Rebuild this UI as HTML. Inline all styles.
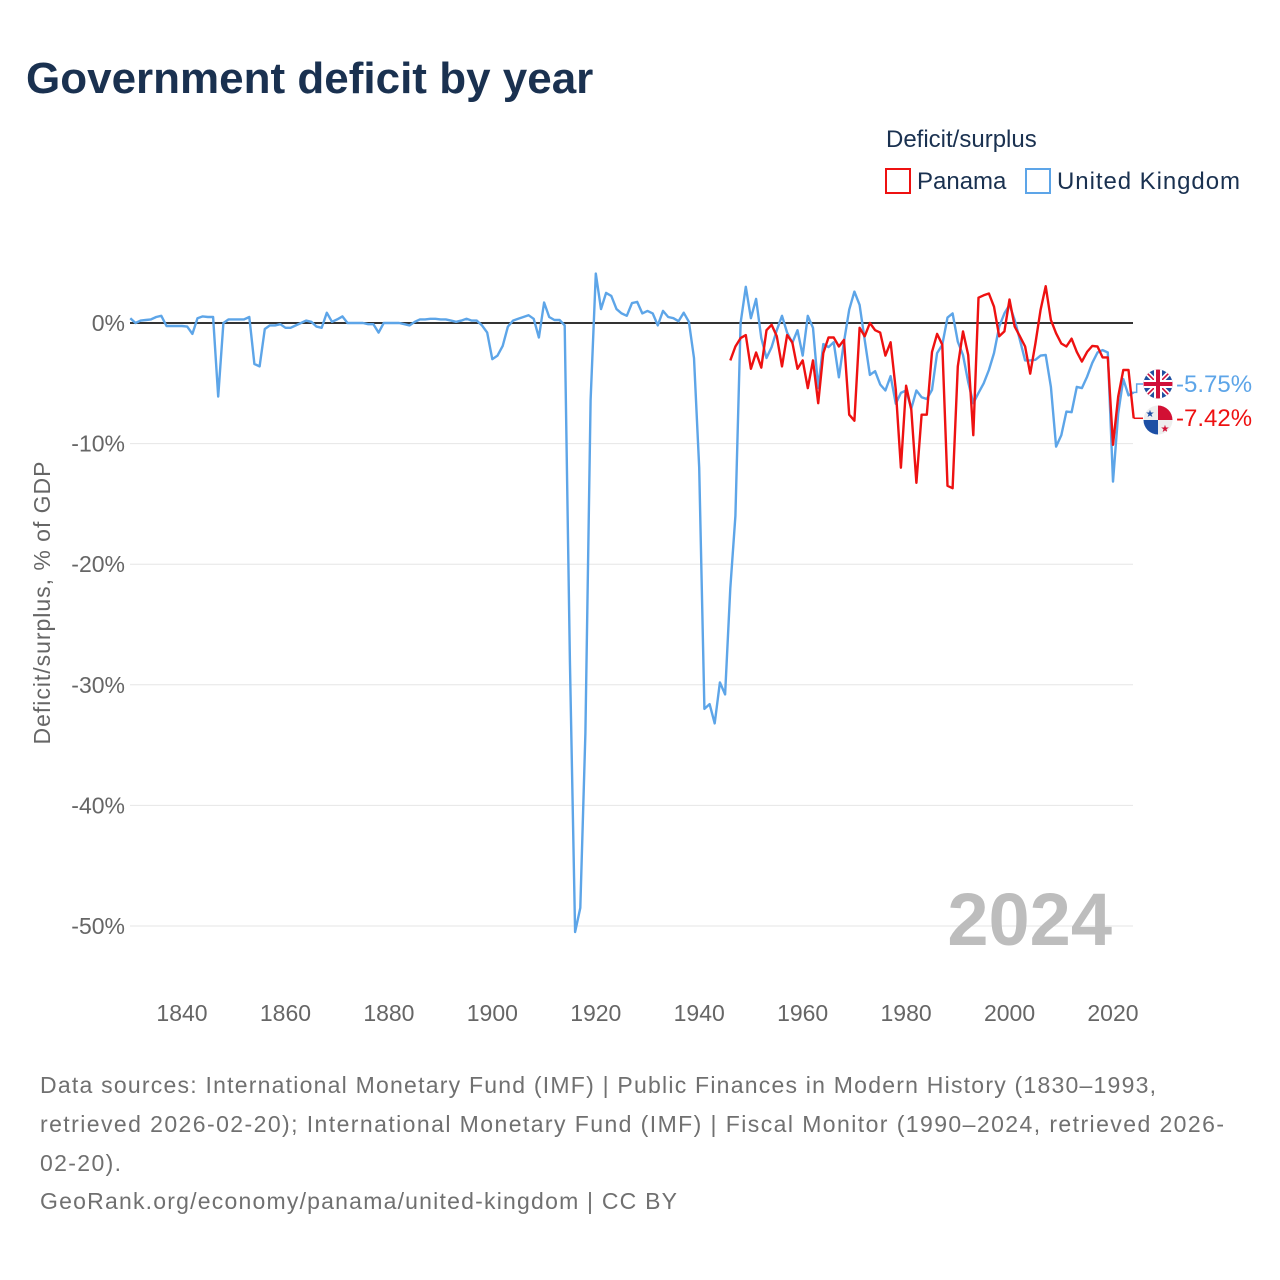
<!DOCTYPE html>
<html><head><meta charset="utf-8"><style>
body{margin:0;background:#fff;font-family:"Liberation Sans",sans-serif;}
#wrap{position:relative;width:1280px;height:1280px;overflow:hidden;background:#fff}
</style></head><body>
<div id="wrap">
<svg id="chart" width="1280" height="1280" viewBox="0 0 1280 1280">
<text x="26" y="93" font-size="44" font-weight="bold" fill="#1a3150">Government deficit by year</text>
<text x="886" y="147" font-size="24" fill="#1a3150">Deficit/surplus</text>
<g><rect x="886" y="169" width="24" height="24" fill="none" stroke="#ee1111" stroke-width="2"/><text x="917" y="189" font-size="24" fill="#1a3150">Panama</text></g>
<g><rect x="1026" y="169" width="24" height="24" fill="none" stroke="#5da5e8" stroke-width="2"/><text x="1057" y="189" font-size="24" fill="#1a3150" textLength="183">United Kingdom</text></g>
<g id="grid"></g>
<g id="yticks"></g>
<g id="xticks"></g>
<text transform="translate(50,603) rotate(-90)" text-anchor="middle" font-size="23" fill="#666" textLength="283">Deficit/surplus, % of GDP</text>
<text x="1112" y="945" text-anchor="end" font-size="74" font-weight="bold" fill="#bdbdbd">2024</text>
<g id="series"></g>
<g>
<clipPath id="cu"><circle cx="1158" cy="384" r="14.5"/></clipPath>
<g clip-path="url(#cu)"><rect x="1143" y="369" width="30" height="30" fill="#1f4fa0"/>
<path d="M1143 369L1173 399M1173 369L1143 399" stroke="#fff" stroke-width="5"/>
<path d="M1143 369L1173 399M1173 369L1143 399" stroke="#d0103a" stroke-width="1.6"/>
<rect x="1143" y="380" width="30" height="8" fill="#fff"/><rect x="1154" y="369" width="8" height="30" fill="#fff"/>
<rect x="1143" y="382" width="30" height="4" fill="#d0103a"/><rect x="1156" y="369" width="4" height="30" fill="#d0103a"/></g>
<text x="1176" y="392" font-size="24" fill="#5da5e8">-5.75%</text></g>
<g>
<clipPath id="cp"><circle cx="1158" cy="420" r="14.5"/></clipPath>
<g clip-path="url(#cp)"><rect x="1143" y="405" width="30" height="30" fill="#eee"/>
<rect x="1158" y="405" width="15" height="15" fill="#d21034"/><rect x="1143" y="420" width="15" height="15" fill="#1c4fa5"/>
<text x="1150" y="417" font-size="10" fill="#1c4fa5" text-anchor="middle">★</text><text x="1165" y="432" font-size="10" fill="#d21034" text-anchor="middle">★</text></g>
<text x="1176" y="426" font-size="24" fill="#ee1111">-7.42%</text></g>
<g font-size="23" fill="#707070">
<text x="40" y="1093" textLength="1116">Data sources: International Monetary Fund (IMF) | Public Finances in Modern History (1830–1993,</text>
<text x="40" y="1132" textLength="1184">retrieved 2026-02-20); International Monetary Fund (IMF) | Fiscal Monitor (1990–2024, retrieved 2026-</text>
<text x="40" y="1171" textLength="81">02-20).</text>
<text x="40" y="1209" textLength="637">GeoRank.org/economy/panama/united-kingdom | CC BY</text>
</g>
</svg>
</div>
<script>
const ukStartYear = 1830;
const ukValues = [0.4,0,0.2,0.25,0.3,0.5,0.6,-0.25,-0.25,-0.25,-0.25,-0.3,-0.9,0.4,0.55,0.5,0.5,-6.1,0,0.3,0.3,0.3,0.3,0.5,-3.4,-3.6,-0.5,-0.2,-0.2,-0.1,-0.4,-0.4,-0.2,0,0.2,0.1,-0.3,-0.4,0.85,0.1,0.3,0.55,0,0,0,0,-0.1,-0.1,-0.8,0,0,0,0,-0.1,-0.2,0.1,0.3,0.3,0.35,0.35,0.3,0.3,0.2,0.1,0.2,0.35,0.2,0.2,-0.2,-0.8,-3.0,-2.7,-1.9,-0.3,0.2,0.35,0.5,0.65,0.35,-1.2,1.7,0.5,0.25,0.25,-0.2,-28,-50.5,-48.5,-34,-6.4,4.1,1.15,2.5,2.25,1.15,0.8,0.6,1.65,1.75,0.8,1.0,0.8,-0.2,1.0,0.5,0.4,0.15,0.85,0.1,-2.9,-12,-32,-31.6,-33.2,-29.8,-30.8,-22,-16,0,3.0,0.4,2.0,-1.25,-2.9,-2.0,-0.6,0.6,-0.8,-1.65,-0.6,-2.7,0.6,-0.4,-5.4,-1.75,-2.0,-1.6,-4.5,-1.55,1.1,2.6,1.5,-1.4,-4.3,-4.0,-5.1,-5.6,-4.4,-6.7,-5.8,-5.6,-7.1,-5.6,-6.15,-6.3,-5.55,-2.5,-1.8,0.45,0.8,-1.55,-2.65,-4.9,-6.65,-5.8,-5.0,-3.9,-2.5,-0.3,0.8,1.5,0.25,-1.4,-3.1,-3.1,-3.05,-2.7,-2.65,-5.3,-10.25,-9.3,-7.35,-7.4,-5.3,-5.4,-4.45,-3.3,-2.45,-2.25,-2.45,-13.15,-7.5,-4.65,-6.0,-5.75];
const panamaStartYear = 1946;
const panamaValues = [-3.1,-1.95,-1.25,-1.0,-3.8,-2.45,-3.7,-0.6,-0.15,-1.1,-3.6,-1.0,-1.6,-3.8,-3.1,-5.4,-3.1,-6.65,-2.5,-1.2,-1.2,-1.95,-1.4,-7.6,-8.1,-0.4,-1.1,0,-0.6,-0.8,-2.7,-1.6,-5.55,-12.0,-5.2,-7.2,-13.25,-7.6,-7.6,-2.4,-0.9,-1.8,-13.5,-13.7,-3.6,-0.7,-2.65,-9.3,2.1,2.3,2.45,1.35,-1.1,-0.7,1.95,-0.3,-1.1,-1.95,-4.2,-1.7,1.1,3.05,0.25,-0.85,-1.7,-1.95,-1.3,-2.4,-3.2,-2.4,-1.9,-1.95,-2.85,-2.85,-10.1,-6.1,-3.9,-3.9,-7.9];
const yTicks = [0,-10,-20,-30,-40,-50];
const xTicks = [1840,1860,1880,1900,1920,1940,1960,1980,2000,2020];

const NS='http://www.w3.org/2000/svg';
const X = y => 130.3 + (y-1830)*5.172;
const Y = v => 323 - v*12.06;
function mk(tag, attrs, parent){const e=document.createElementNS(NS,tag);for(const k in attrs)e.setAttribute(k,attrs[k]);parent.appendChild(e);return e;}
const grid=document.getElementById('grid'), yt=document.getElementById('yticks'), xt=document.getElementById('xticks'), ser=document.getElementById('series');
yTicks.forEach(t=>{
  if(t!==0){const l=mk('line',{x1:130,x2:1133,y1:Y(t),y2:Y(t),stroke:'#e6e6e6','stroke-width':1},grid);
  
  }
  const tx=mk('text',{x:125,y:Y(t)+8,'text-anchor':'end','font-size':23,fill:'#666'},yt);
  tx.textContent=t+'%';
  
  
});
xTicks.forEach(t=>{
  const tx=mk('text',{x:X(t),y:1021,'text-anchor':'middle','font-size':23,fill:'#666'},xt);
  tx.textContent=t;
  
  
});
const zl=mk('line',{x1:130,x2:1133,y1:Y(0),y2:Y(0),stroke:'#333','stroke-width':2},grid);


function pts(start,vals){return vals.map((v,i)=>X(start+i).toFixed(1)+','+Y(v).toFixed(1)).join(' ');}
const uk=mk('polyline',{points:pts(ukStartYear,ukValues),fill:'none',stroke:'#5da5e8','stroke-width':2.4,'stroke-linejoin':'round'},ser);


const pa=mk('polyline',{points:pts(panamaStartYear,panamaValues),fill:'none',stroke:'#ee1111','stroke-width':2.4,'stroke-linejoin':'round'},ser);


const ux=X(2024), uy=Y(ukValues[ukValues.length-1]), py=Y(panamaValues[panamaValues.length-1]);
const c1=mk('polyline',{points:`${ux},${uy} ${ux+3},${uy} ${ux+3},384 1143,384`,fill:'none',stroke:'#5da5e8','stroke-width':1.5},ser);


const c2=mk('polyline',{points:`${ux},${py} 1143,${py}`,fill:'none',stroke:'#ee1111','stroke-width':1.5},ser);


</script>
</body></html>
